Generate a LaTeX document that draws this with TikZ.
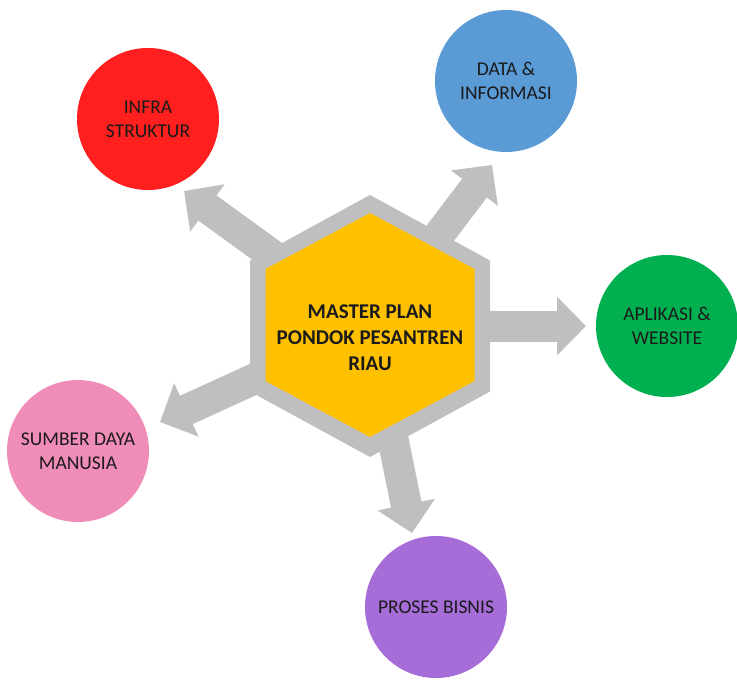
\documentclass[tikz,border=0pt]{standalone}
\usepackage{fontspec}
\setmainfont{Carlito}
\usetikzlibrary{arrows.meta}

\definecolor{hubgray}{HTML}{BFBFBF}
\definecolor{hubyellow}{HTML}{FFC000}
\definecolor{cred}{HTML}{FF1F1F}
\definecolor{cblue}{HTML}{5B9BD5}
\definecolor{cgreen}{HTML}{00B050}
\definecolor{cpink}{HTML}{F08CB8}
\definecolor{cpurple}{HTML}{A66CD8}
\definecolor{ink}{HTML}{1A1A1A}

\tikzset{
  blockarrow/.style={draw=hubgray, line width=31pt,
    -{Triangle[width=57pt,length=29pt]}},
  bubble/.style={circle, minimum size=142pt, inner sep=0pt, draw=none,
    align=center, text=ink, font=\fontsize{19.5}{24}\selectfont},
  hubtext/.style={align=center, text=ink,
    font=\fontsize{21}{26}\selectfont\bfseries}
}

\begin{document}
\begin{tikzpicture}[x=1pt, y=-1pt]
  \useasboundingbox (0,0) rectangle (737,680);
  \fill[white] (0,0) rectangle (737,680);

  % hub centre and arrow tips
  \coordinate (hub) at (370,326);
  \coordinate (tipInfra)  at (184,191);
  \coordinate (tipData)   at (492,165);
  \coordinate (tipApp)    at (586,326);
  \coordinate (tipSdm)    at (160,422);
  \coordinate (tipProses) at (412,533);

  % block arrows leaving the hub
  \draw[blockarrow] (hub) -- (tipInfra);
  \draw[blockarrow] (hub) -- (tipData);
  \draw[blockarrow] (hub) -- (tipApp);
  \draw[blockarrow] (hub) -- (tipSdm);
  \draw[blockarrow] (hub) -- (tipProses);

  % gray frame and yellow hexagon
  \fill[hubgray] (370,195) -- (490,260.5) -- (490,391.5) -- (370,457)
                 -- (250,391.5) -- (250,260.5) -- cycle;
  \fill[hubyellow] (370,213) -- (474.5,269) -- (474.5,381) -- (370,437)
                 -- (265.5,381) -- (265.5,269) -- cycle;
  \node[hubtext] (hubtitle) at (370,338) {MASTER PLAN\\PONDOK PESANTREN\\RIAU};

  % surrounding topics
  \node[bubble, fill=cred]    (infra)  at (148,119) {INFRA\\STRUKTUR};
  \node[bubble, fill=cblue]   (data)   at (506,81)  {DATA \&\\INFORMASI};
  \node[bubble, fill=cgreen]  (app)    at (667,326) {APLIKASI \&\\WEBSITE};
  \node[bubble, fill=cpink]   (sdm)    at (78,451)  {SUMBER DAYA\\MANUSIA};
  \node[bubble, fill=cpurple] (proses) at (436,607) {PROSES BISNIS};
\end{tikzpicture}
\end{document}
